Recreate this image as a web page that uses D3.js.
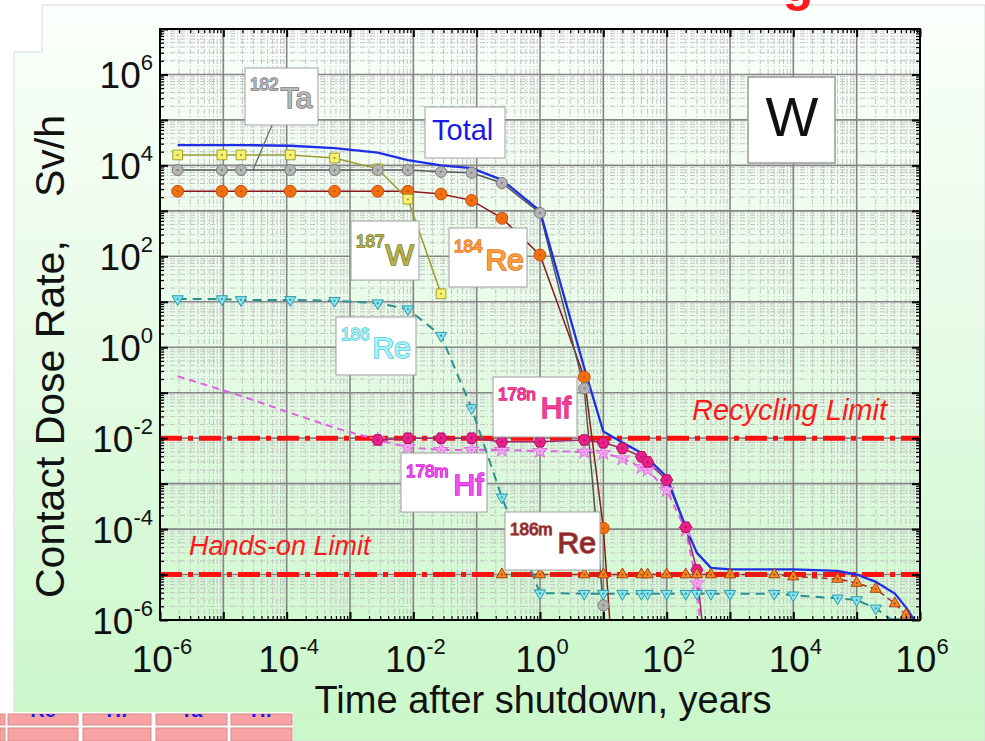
<!DOCTYPE html>
<html>
<head>
<meta charset="utf-8">
<script src="https://cdn.jsdelivr.net/npm/d3@7"></script>
<style>
  html, body { margin: 0; padding: 0; background: #fff; }
  svg { display: block; font-family: "Liberation Sans", Arial, sans-serif; }
</style>
</head>
<body>
<div id="chart"></div>
<script>
// Contact dose rate of W after shutdown, per nuclide
// times in years: 1 min, 5 min, 10 min, 1 h, 5 h, 1 d, 3 d, 10 d, 1 mo, 3 mo, 1 y ... 9e5 y
const _ = null;
const times = [1.9e-6, 9.5e-6, 1.9e-5, 1.14e-4, 5.7e-4, 2.74e-3, 8.2e-3, 2.74e-2, 8.3e-2, 0.25,
  1, 5, 10, 20, 40, 50, 100, 200, 300, 500, 1000, 5000, 1e4, 5e4, 1e5, 2e5, 4e5, 6e5, 9e5];

const total = [2.8e4, 2.8e4, 2.8e4, 2.7e4, 2.4e4, 1.9e4, 1.3e4, 1.0e4, 8.7e3, 4.8e3,
  1.0e3, 0.35, 1.4e-2, 8e-3, 4.7e-3, 3.6e-3, 1.4e-3, 1.1e-4, 3e-5, 1.4e-5,
  1.3e-5, 1.3e-5, 1.3e-5, 1.2e-5, 1.0e-5, 6.9e-6, 3.8e-6, 1.9e-6, 8e-7];
const ta182 = [7.9e3, 7.9e3, 7.9e3, 7.9e3, 7.9e3, 7.9e3, 7.9e3, 7.2e3, 6.9e3, 4.1e3,
  900, 0.125, 2.1e-6, 1e-12, _, _, _, _, _, _, _, _, _, _, _, _, _, _, _];
const w187 = [1.7e4, 1.7e4, 1.7e4, 1.7e4, 1.45e4, 8.4e3, 1.8e3, 15, _, _,
  _, _, _, _, _, _, _, _, _, _, _, _, _, _, _, _, _, _, _];
const re184 = [2.7e3, 2.7e3, 2.7e3, 2.7e3, 2.7e3, 2.7e3, 2.7e3, 2.35e3, 1.7e3, 690,
  107, 0.22, 1.05e-4, 1e-10, _, _, _, _, _, _, _, _, _, _, _, _, _, _, _];
const re186 = [11.5, 11.5, 11, 11, 10.5, 9.3, 6.9, 1.8, 0.046, 5e-4,
  3.9e-6, 3.8e-6, 3.8e-6, 3.8e-6, 3.8e-6, 3.8e-6, 3.8e-6, 3.8e-6, 3.8e-6, 3.8e-6,
  3.8e-6, 3.8e-6, 3.5e-6, 3.0e-6, 2.75e-6, 1.8e-6, 9e-7, _, _];
const re186m = [_, _, _, _, _, _, _, _, _, 1e-5,
  1e-5, 1e-5, 1e-5, 1e-5, 1e-5, 1e-5, 1e-5, 1e-5, 1e-5, 1e-5,
  1e-5, 1e-5, 9e-6, 8e-6, 6.5e-6, 4.8e-6, 2.3e-6, 1.3e-6, _];
const hf178n = [_, _, _, _, _, 9.1e-3, 1e-2, 1e-2, 1e-2, 8.3e-3,
  8.3e-3, 9.1e-3, 7.9e-3, 6e-3, 3.9e-3, 3e-3, 1.2e-3, 1.1e-4, 1.26e-5, 1e-8,
  _, _, _, _, _, _, _, _, _];
const hf178m = [0.23, 0.115, 0.085, 0.036, 0.017, 9.1e-3, 6.3e-3, 5.5e-3, 5.5e-3, 5.5e-3,
  5.2e-3, 5e-3, 4.7e-3, 3.6e-3, 2.3e-3, 2e-3, 7.2e-4, 9.5e-5, 6.4e-6, 1e-9,
  _, _, _, _, _, _, _, _, _];

const recyclingLimit = 1e-2;
const handsOnLimit = 1e-5;
const xTickLabels = [-6, -4, -2, 0, 2, 4, 6];
const yTickLabels = [-6, -4, -2, 0, 2, 4, 6];

const W = 985, H = 741;
const svg = d3.select("#chart").append("svg").attr("width", W).attr("height", H);

// background panel
const grad = svg.append("defs").append("linearGradient")
  .attr("id", "bg").attr("x1", 0).attr("y1", 0).attr("x2", 0).attr("y2", 1);
grad.append("stop").attr("offset", "0%").attr("stop-color", "#fbfffb");
grad.append("stop").attr("offset", "45%").attr("stop-color", "#e6fbe6");
grad.append("stop").attr("offset", "100%").attr("stop-color", "#c9f7c9");
svg.append("path")
  .attr("d", "M14,52 H42 V5 H985 V741 H14 Z")
  .attr("fill", "url(#bg)").attr("stroke", "#dcdcdc");

// red title remnant at top (cut off by the page edge, as in the source)
svg.append("text").attr("x", 798).attr("y", 1)
  .attr("text-anchor", "middle").attr("font-size", 50).attr("font-weight", "bold")
  .attr("fill", "#ff1a1a").text("g");

const x = d3.scaleLog().domain([1e-6, 1e6]).range([160, 920]);
const y = d3.scaleLog().domain([1e-6, 1e7]).range([620, 29]);

svg.select("defs").append("clipPath").attr("id", "plot")
  .append("rect").attr("x", 160).attr("y", 29).attr("width", 760).attr("height", 591);

// grid
const decX = d3.range(-6, 7).map(e => Math.pow(10, e));
const decY = d3.range(-6, 8).map(e => Math.pow(10, e));
const minorOf = decs => decs.slice(0, -1).flatMap(d => d3.range(2, 10).map(k => k * d));
const minX = minorOf(decX), minY = minorOf(decY);

const grid = svg.append("g");
grid.selectAll(".mx").data(minX).join("line")
  .attr("x1", d => x(d)).attr("x2", d => x(d)).attr("y1", 29).attr("y2", 620)
  .attr("stroke", "#c3c3c3").attr("stroke-dasharray", "5,2,1,2");
grid.selectAll(".my").data(minY).join("line")
  .attr("y1", d => y(d)).attr("y2", d => y(d)).attr("x1", 160).attr("x2", 920)
  .attr("stroke", "#c3c3c3").attr("stroke-dasharray", "5,2,1,2");
grid.selectAll(".Mx").data(decX).join("line")
  .attr("x1", d => x(d)).attr("x2", d => x(d)).attr("y1", 29).attr("y2", 620)
  .attr("stroke", "#858585").attr("stroke-width", 1.6);
grid.selectAll(".My").data(decY).join("line")
  .attr("y1", d => y(d)).attr("y2", d => y(d)).attr("x1", 160).attr("x2", 920)
  .attr("stroke", "#858585").attr("stroke-width", 1.6);

// limit lines
const limits = svg.append("g");
[recyclingLimit, handsOnLimit].forEach(v => {
  limits.append("line")
    .attr("x1", 160).attr("x2", 920).attr("y1", y(v)).attr("y2", y(v))
    .attr("stroke", "#ff1010").attr("stroke-width", 5)
    .attr("stroke-dasharray", "22,6,5,6");
});

// series
const hexagon = {
  draw(ctx, size) {
    const r = Math.sqrt(size / 2.598);
    for (let i = 0; i < 6; i++) {
      const a = Math.PI / 3 * i;
      i ? ctx.lineTo(r * Math.cos(a), r * Math.sin(a)) : ctx.moveTo(r, 0);
    }
    ctx.closePath();
  }
};
const series = [
  { values: hf178m, line: "#e060e0", dash: "7,5", width: 2, shape: d3.symbolStar, size: 70, fill: "#f5a8f0", stroke: "#e070e0", markFrom: 5 },
  { values: hf178n, line: "#a02870", width: 1.5, shape: hexagon, size: 95, fill: "#e8208a", stroke: "#b01060" },
  { values: re186m, line: "#a83020", dash: "6,4", width: 1.5, shape: d3.symbolTriangle, size: 55, fill: "#f58a20", stroke: "#a84010" },
  { values: re186, line: "#2a9090", dash: "9,6", width: 2, shape: d3.symbolTriangle, rot: 180, size: 55, fill: "#88e4f0", stroke: "#2a9aa8" },
  { values: re184, line: "#8b1a1a", width: 1.5, shape: d3.symbolCircle, size: 110, fill: "#f07010", stroke: "#c85010" },
  { values: w187, line: "#9a9a30", width: 1.5, shape: d3.symbolSquare, size: 95, fill: "#f8f070", stroke: "#a0a030" },
  { values: ta182, line: "#555555", width: 1.5, shape: d3.symbolCircle, size: 95, fill: "#b4b4b4", stroke: "#7a7a7a" }
];

const plot = svg.append("g").attr("clip-path", "url(#plot)");
const line = d3.line().defined(d => d.v != null).x(d => x(d.t)).y(d => y(d.v));
const pts = vals => times.map((t, i) => ({ t, v: vals[i], i }));

series.forEach(s => {
  plot.append("path").datum(pts(s.values)).attr("d", line)
    .attr("fill", "none").attr("stroke", s.line).attr("stroke-width", s.width)
    .attr("stroke-dasharray", s.dash || null);
});
plot.append("path").datum(pts(total)).attr("d", line)
  .attr("fill", "none").attr("stroke", "#1f2fe6").attr("stroke-width", 2.3);

series.forEach(s => {
  const data = pts(s.values).filter(d => d.v != null && d.i >= (s.markFrom || 0));
  const g = plot.append("g");
  g.selectAll("path").data(data).join("path")
    .attr("d", d3.symbol(s.shape, s.size))
    .attr("transform", d => `translate(${x(d.t)},${y(d.v)}) rotate(${s.rot || 0})`)
    .attr("fill", s.fill).attr("stroke", s.stroke).attr("stroke-width", 1);
  g.selectAll("circle").data(data).join("circle")
    .attr("cx", d => x(d.t)).attr("cy", d => y(d.v)).attr("r", 1.1)
    .attr("fill", s.stroke);
});

// axes: inward ticks on all four sides
const tickAxis = (axisFn, tr, vals, len) => {
  const g = svg.append("g").attr("transform", tr)
    .call(axisFn.tickValues(vals).tickSize(-len).tickSizeOuter(0).tickFormat(""));
  g.select(".domain").remove();
  g.selectAll(".tick line").attr("stroke", "#000").attr("stroke-width", len > 5 ? 2 : 1.2);
};
tickAxis(d3.axisBottom(x), "translate(0,620)", decX, 8);
tickAxis(d3.axisBottom(x), "translate(0,620)", minX, 4);
tickAxis(d3.axisTop(x), "translate(0,29)", decX, 8);
tickAxis(d3.axisTop(x), "translate(0,29)", minX, 4);
tickAxis(d3.axisLeft(y), "translate(160,0)", decY, 8);
tickAxis(d3.axisLeft(y), "translate(160,0)", minY, 4);
tickAxis(d3.axisRight(y), "translate(920,0)", decY, 8);
tickAxis(d3.axisRight(y), "translate(920,0)", minY, 4);
svg.append("rect").attr("x", 160).attr("y", 29).attr("width", 760).attr("height", 591)
  .attr("fill", "none").attr("stroke", "#000").attr("stroke-width", 2);

// tick labels
const powLabel = (sel, e) => {
  sel.append("tspan").text("10");
  sel.append("tspan").attr("font-size", 22).attr("dy", -18).text(e);
};
xTickLabels.forEach(e => {
  svg.append("text").attr("x", x(Math.pow(10, e)) + 2).attr("y", 672)
    .attr("text-anchor", "middle").attr("font-size", 37).attr("fill", "#111")
    .call(powLabel, e);
});
yTickLabels.forEach(e => {
  svg.append("text").attr("x", 153).attr("y", y(Math.pow(10, e)) + 14)
    .attr("text-anchor", "end").attr("font-size", 37).attr("fill", "#111")
    .call(powLabel, e);
});

// axis titles
svg.append("text").attr("x", 543).attr("y", 713).attr("text-anchor", "middle")
  .attr("font-size", 38).attr("fill", "#111").text("Time after shutdown, years");
svg.append("text").attr("transform", "translate(64,598) rotate(-90)")
  .attr("font-size", 41).attr("fill", "#111").text("Contact Dose Rate,");
svg.append("text").attr("transform", "translate(64,115) rotate(-90)")
  .attr("text-anchor", "end").attr("font-size", 41).attr("fill", "#111").text("Sv/h");

// limit labels
svg.append("text").attr("x", 692).attr("y", 420).attr("font-size", 29)
  .attr("font-style", "italic").attr("fill", "#ff1a1a").text("Recycling Limit");
svg.append("text").attr("x", 189).attr("y", 555).attr("font-size", 27)
  .attr("font-style", "italic").attr("fill", "#ff1a1a").text("Hands-on Limit");

// nuclide label boxes
svg.append("line").attr("x1", 272).attr("y1", 125).attr("x2", 253).attr("y2", 170)
  .attr("stroke", "#666").attr("stroke-width", 1.2);

const nuclideLabels = [
  { sup: "182", main: "Ta", box: [245, 68, 318, 125], base: 108, dx: 2, fill: "#b8b8b8", stroke: "#7c7c7c" },
  { sup: "187", main: "W", box: [351, 221, 419, 280], base: 265, dx: 1, fill: "#b4b450", stroke: "#7a7a20" },
  { sup: "184", main: "Re", box: [449, 228, 527, 287], base: 270, dx: 3, fill: "#fba040", stroke: "#e87010" },
  { sup: "186", main: "Re", box: [336, 317, 416, 375], base: 358, dx: 3, fill: "#a8f4fa", stroke: "#50c8d8" },
  { sup: "178n", main: "Hf", box: [493, 377, 577, 437], base: 418, dx: 5, fill: "#f0409a", stroke: "#e0207a" },
  { sup: "178m", main: "Hf", box: [401, 453, 487, 512], base: 495, dx: 5, fill: "#f050f0", stroke: "#d020d0" },
  { sup: "186m", main: "Re", box: [505, 512, 600, 570], base: 553, dx: 5, fill: "#8e2828", stroke: "#b06060" }
];
nuclideLabels.forEach(l => {
  const [x0, y0, x1, y1] = l.box;
  svg.append("rect").attr("x", x0).attr("y", y0).attr("width", x1 - x0).attr("height", y1 - y0)
    .attr("fill", "#fff").attr("stroke", "#a0a0a0");
  const t = svg.append("text").attr("x", x0 + 5).attr("y", l.base)
    .attr("fill", l.fill).attr("stroke", l.stroke).attr("paint-order", "stroke");
  t.append("tspan").attr("font-size", 17).attr("stroke-width", 1.4).attr("dy", -18).text(l.sup);
  t.append("tspan").attr("font-size", 30).attr("stroke-width", 1.6).attr("dy", 18).attr("dx", l.dx).text(l.main);
});

svg.append("rect").attr("x", 425).attr("y", 107).attr("width", 80).attr("height", 51)
  .attr("fill", "#fff").attr("stroke", "#a0a0a0");
svg.append("text").attr("x", 432).attr("y", 140).attr("font-size", 29)
  .attr("fill", "#1a1ae6").text("Total");

svg.append("rect").attr("x", 748).attr("y", 77).attr("width", 87).attr("height", 86)
  .attr("fill", "#fff").attr("stroke", "#999").attr("stroke-width", 1.5);
svg.append("text").attr("x", 792).attr("y", 136).attr("text-anchor", "middle")
  .attr("font-size", 56).attr("fill", "#111").text("W");

// clipped table remnant bottom-left
const tbl = svg.append("g");
tbl.append("rect").attr("x", 0).attr("y", 712).attr("width", 293).attr("height", 29).attr("fill", "#fff");
svg.select("defs").append("clipPath").attr("id", "tblclip")
  .append("rect").attr("x", 0).attr("y", 714).attr("width", 293).attr("height", 11);
const cols = [[0, 5], [8, 78], [83, 151], [156, 227], [231, 292]];
const cellText = ["", "Re", "Hf", "Ta", "Hf"];
cols.forEach((c, i) => {
  [[714, 11], [728, 13]].forEach(r => {
    tbl.append("rect").attr("x", c[0]).attr("y", r[0]).attr("width", c[1] - c[0]).attr("height", r[1])
      .attr("fill", "#f7a3a3").attr("stroke", "#d88a8a");
  });
  tbl.append("text").attr("x", (c[0] + c[1]) / 2).attr("y", 717)
    .attr("text-anchor", "middle").attr("font-size", 20).attr("font-weight", "bold")
    .attr("fill", "#1a1ae6").attr("clip-path", "url(#tblclip)").text(cellText[i]);
});
</script>
</body>
</html>
